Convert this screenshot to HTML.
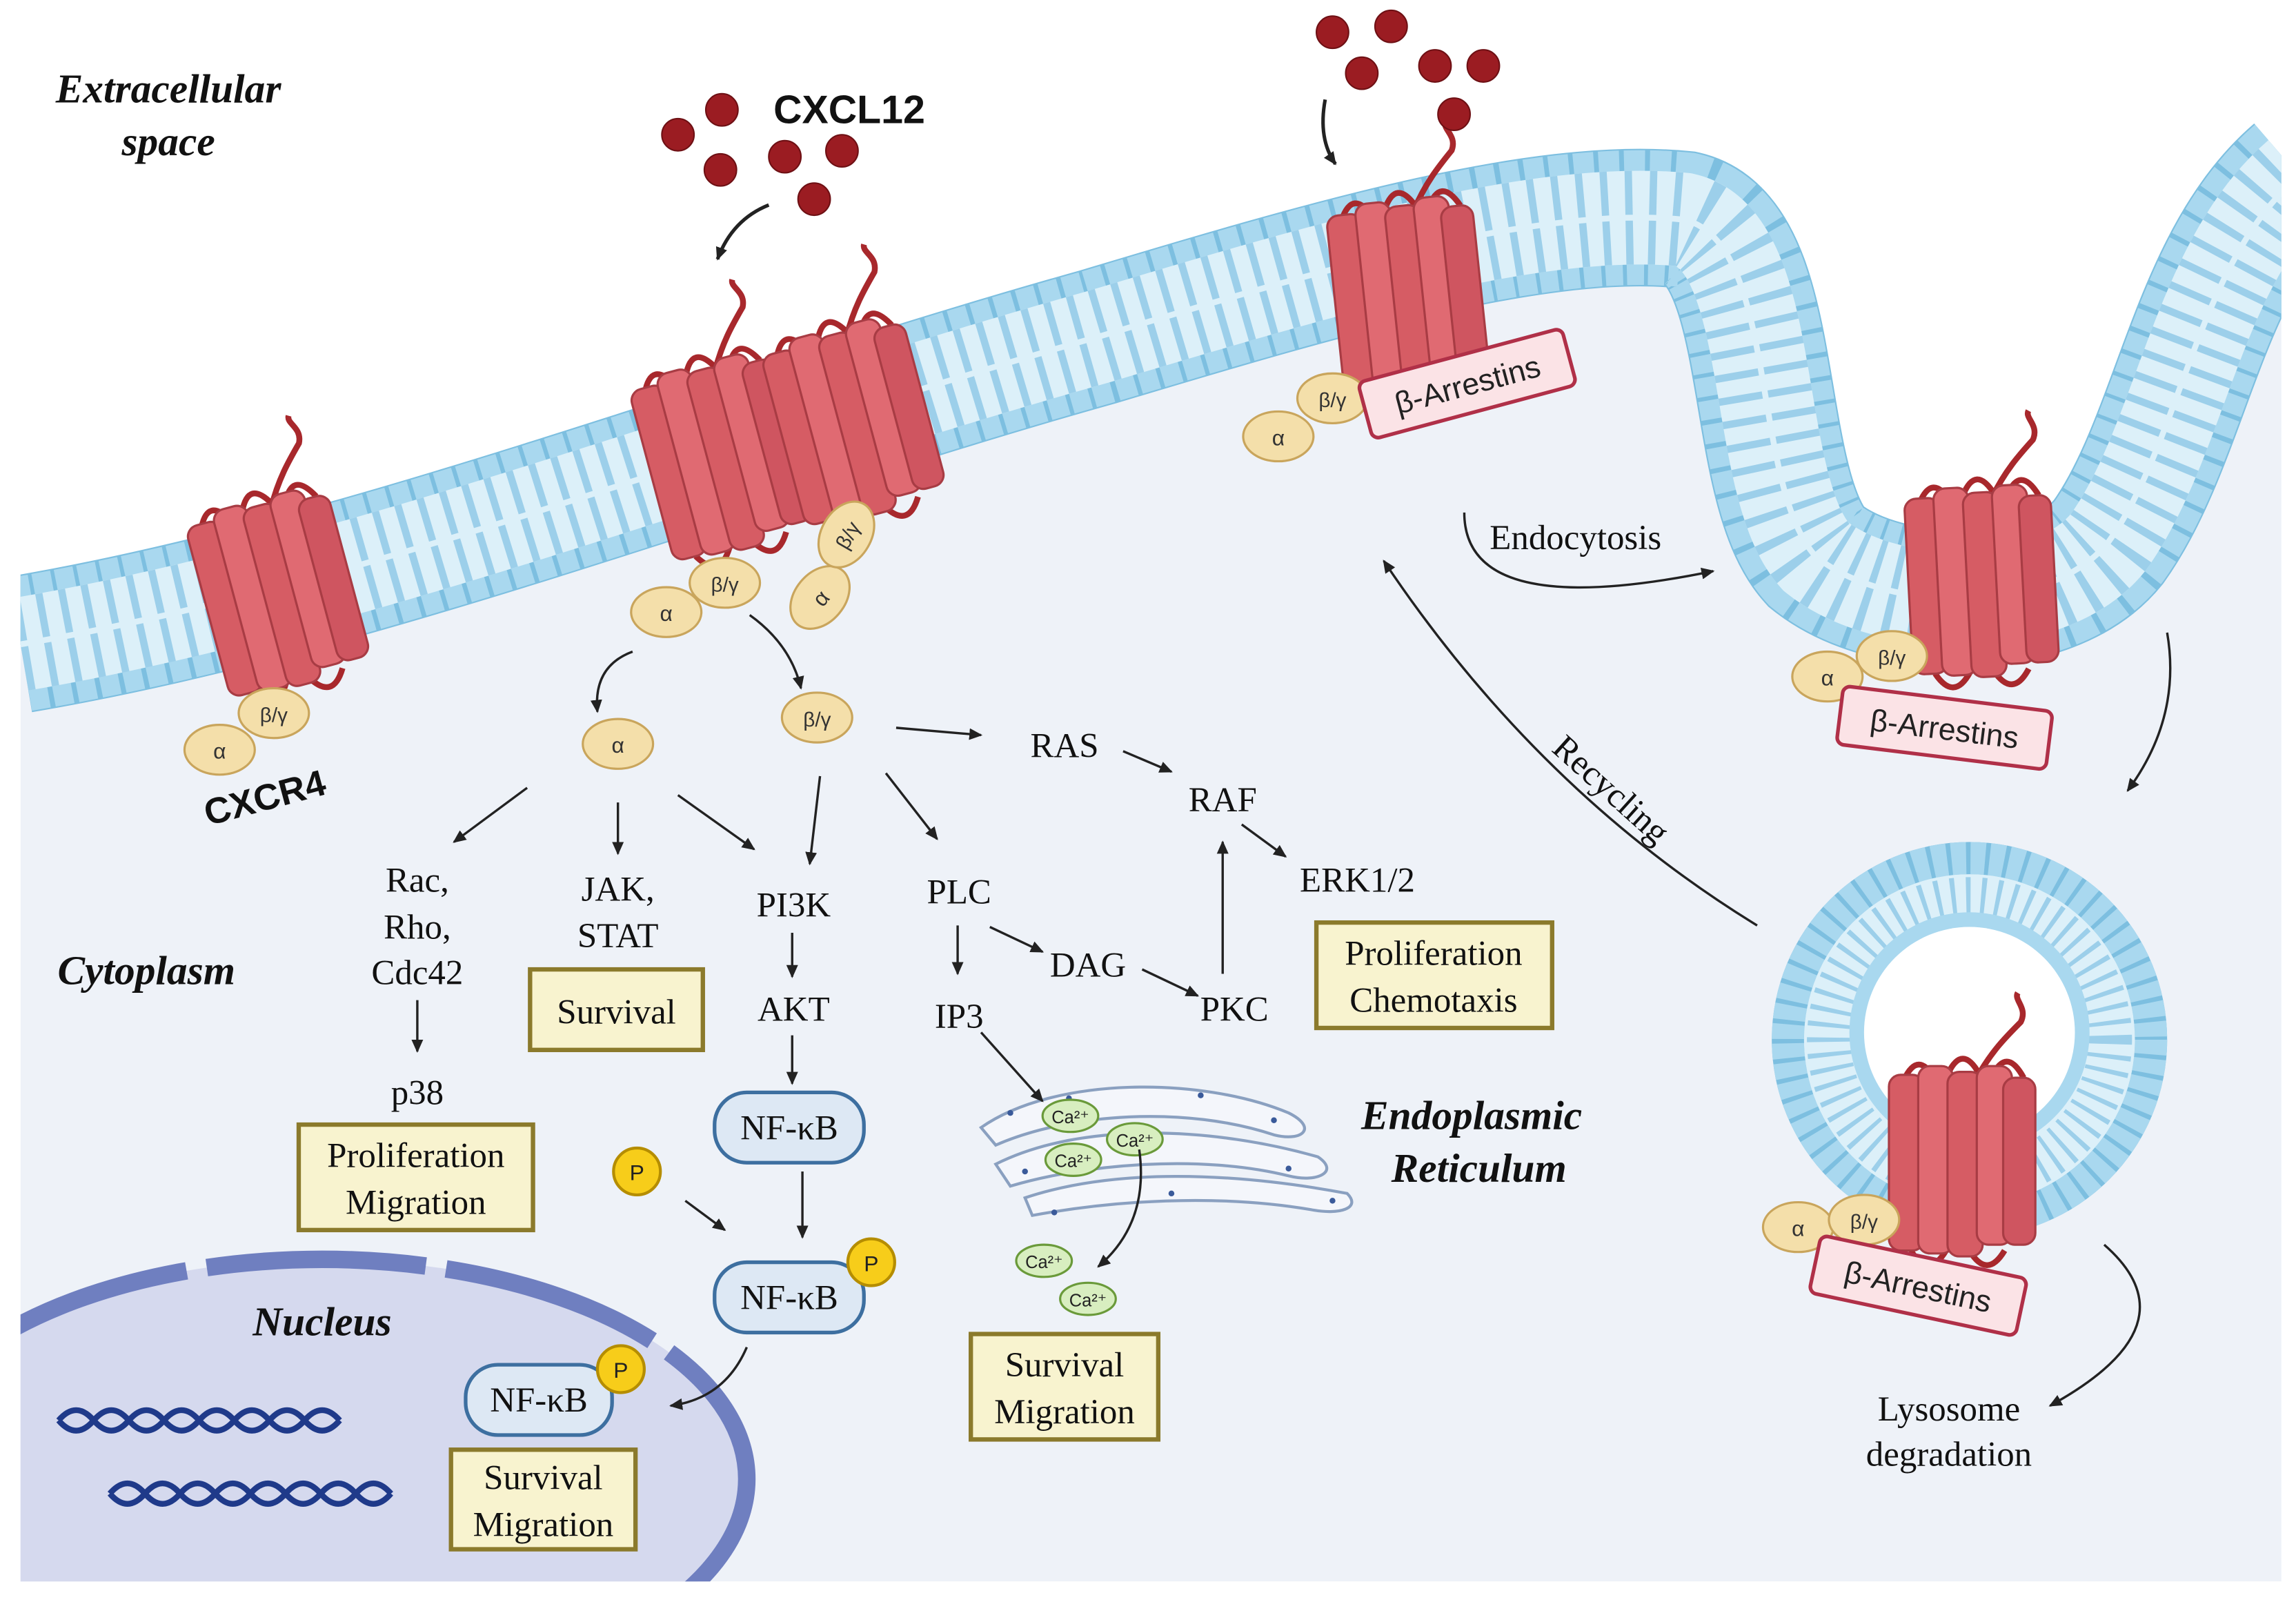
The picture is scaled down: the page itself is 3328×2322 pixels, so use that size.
<!DOCTYPE html>
<html><head><meta charset="utf-8">
<style>
html,body{margin:0;padding:0;background:#fff;overflow:hidden;width:3328px;height:2322px;}
svg{display:block;}
.t{font-family:"Liberation Serif",serif;font-size:24px;fill:#111;text-anchor:middle;}
.bi{font-family:"Liberation Serif",serif;font-weight:bold;font-style:italic;font-size:28px;fill:#111;text-anchor:middle;}
.s{font-family:"Liberation Sans",sans-serif;text-anchor:middle;}
</style></head><body>
<svg width="3328" height="2322" viewBox="0 0 1568 1094" xmlns="http://www.w3.org/2000/svg">
<defs>
<marker id="ah" markerWidth="10" markerHeight="10" refX="8" refY="5" orient="auto" markerUnits="userSpaceOnUse">
<path d="M0,1 L9,5 L0,9 Z" fill="#222"/></marker>
<clipPath id="frame"><rect x="14" y="0" width="1544" height="1080"/></clipPath>
<g id="rec">
<path d="M60,8 C70,-10 80,-20 90,-30 C95,-40 85,-45 88,-50" fill="none" stroke="#a8282c" stroke-width="4"/>
<path d="M10,10 q10,-22 22,0 M40,6 q10,-22 22,0 M70,8 q10,-22 22,0 M15,126 q12,20 24,0 M55,126 q12,20 24,0" fill="none" stroke="#a8282c" stroke-width="4"/>
<rect x="0" y="6" width="24" height="120" rx="8" fill="#d65c64" stroke="#a83c44" stroke-width="1.5"/>
<rect x="20" y="0" width="24" height="128" rx="8" fill="#e06a72" stroke="#a83c44" stroke-width="1.5"/>
<rect x="40" y="4" width="24" height="126" rx="8" fill="#d65c64" stroke="#a83c44" stroke-width="1.5"/>
<rect x="60" y="0" width="24" height="122" rx="8" fill="#e06a72" stroke="#a83c44" stroke-width="1.5"/>
<rect x="78" y="8" width="22" height="114" rx="8" fill="#cf5560" stroke="#a83c44" stroke-width="1.5"/>
</g>
<g id="al"><ellipse cx="0" cy="0" rx="24" ry="17" fill="#f4dfaa" stroke="#c9a55c" stroke-width="1.5"/><text x="0" y="6" class="s" font-size="15" fill="#333">α</text></g>
<g id="bg"><ellipse cx="0" cy="0" rx="24" ry="17" fill="#f4dfaa" stroke="#c9a55c" stroke-width="1.5"/><text x="0" y="6" class="s" font-size="14" fill="#333">β/γ</text></g>
<g id="ca"><ellipse cx="0" cy="0" rx="19" ry="11" fill="#d8eec0" stroke="#6a9a3a" stroke-width="1.5"/><text x="0" y="5" class="s" font-size="12" fill="#222">Ca²⁺</text></g>
</defs>

<g clip-path="url(#frame)">
<path d="M14,440 C250,400 500,300 750,230 C900,185 1050,140 1150,150 C1215,165 1195,330 1240,380 C1290,420 1400,420 1440,370 C1490,300 1500,180 1570,120 L1570,1080 L14,1080 Z" fill="#eef2f8"/>
<ellipse cx="220" cy="1010" rx="290" ry="150" fill="#d5d9ee"/>
<ellipse cx="220" cy="1010" rx="290" ry="150" fill="none" stroke="#6f7fc0" stroke-width="12" stroke-dasharray="150 14"/>
<g fill="none">
<path d="M14,440 C250,400 500,300 750,230 C900,185 1050,140 1150,150 C1215,165 1195,330 1240,380 C1290,420 1400,420 1440,370 C1490,300 1500,180 1570,120" stroke="#7dbfe0" stroke-width="94"/>
<path d="M14,440 C250,400 500,300 750,230 C900,185 1050,140 1150,150 C1215,165 1195,330 1240,380 C1290,420 1400,420 1440,370 C1490,300 1500,180 1570,120" stroke="#a9d8ef" stroke-width="92" stroke-dasharray="13 3"/>
<path d="M14,440 C250,400 500,300 750,230 C900,185 1050,140 1150,150 C1215,165 1195,330 1240,380 C1290,420 1400,420 1440,370 C1490,300 1500,180 1570,120" stroke="#dcf0f9" stroke-width="64"/>
<path d="M14,440 C250,400 500,300 750,230 C900,185 1050,140 1150,150 C1215,165 1195,330 1240,380 C1290,420 1400,420 1440,370 C1490,300 1500,180 1570,120" stroke="#9ccfea" stroke-width="64" stroke-dasharray="5 11"/>
<path d="M14,440 C250,400 500,300 750,230 C900,185 1050,140 1150,150 C1215,165 1195,330 1240,380 C1290,420 1400,420 1440,370 C1490,300 1500,180 1570,120" stroke="#dcf0f9" stroke-width="4"/>
</g>
<circle cx="1345" cy="710" r="135" fill="#7dbfe0"/>
<circle cx="1345" cy="710" r="124" fill="none" stroke="#a9d8ef" stroke-width="22" stroke-dasharray="10 3"/>
<circle cx="1345" cy="710" r="113" fill="#dcf0f9"/>
<circle cx="1345" cy="710" r="96" fill="none" stroke="#9ccfea" stroke-width="30" stroke-dasharray="3 7"/>
<circle cx="1345" cy="705" r="82" fill="#a9d8ef"/>
<circle cx="1345" cy="705" r="72" fill="#ffffff"/>
<g fill="none" stroke="#1f3a8a" stroke-width="4">
<path d="M40,970 q12,-14 24,0 t24,0 t24,0 t24,0 t24,0 t24,0 t24,0 t24,0"/>
<path d="M40,970 q12,14 24,0 t24,0 t24,0 t24,0 t24,0 t24,0 t24,0 t24,0"/>
<path d="M75,1020 q12,-14 24,0 t24,0 t24,0 t24,0 t24,0 t24,0 t24,0 t24,0"/>
<path d="M75,1020 q12,14 24,0 t24,0 t24,0 t24,0 t24,0 t24,0 t24,0 t24,0"/>
</g>
</g>

<use href="#rec" transform="translate(125,355) rotate(-15)"/>
<use href="#rec" transform="translate(428,262) rotate(-15)"/>
<use href="#rec" transform="translate(518,238) rotate(-15)"/>
<use href="#rec" transform="translate(905,142) rotate(-6)"/>
<use href="#rec" transform="translate(1300,335) rotate(-3)"/>
<use href="#rec" transform="translate(1290,728)"/>

<use href="#al" x="150" y="512"/><use href="#bg" x="187" y="487"/>
<use href="#al" x="455" y="418"/><use href="#bg" x="495" y="398"/>
<use href="#al" transform="translate(560,408) rotate(-50)"/><use href="#bg" transform="translate(578,365) rotate(-60)"/>
<use href="#al" x="873" y="298"/><use href="#bg" x="910" y="272"/>
<use href="#al" x="1248" y="462"/><use href="#bg" x="1292" y="448"/>
<use href="#al" x="1228" y="838"/><use href="#bg" x="1273" y="833"/>
<use href="#al" x="422" y="508"/><use href="#bg" x="558" y="490"/>

<g transform="translate(1002,262) rotate(-15)"><rect x="-72" y="-20" width="144" height="40" rx="5" fill="#fbe3e6" stroke="#b03048" stroke-width="2.5"/><text x="0" y="8" class="s" font-size="21" fill="#222">β-Arrestins</text></g>
<g transform="translate(1328,497) rotate(7)"><rect x="-72" y="-20" width="144" height="40" rx="5" fill="#fbe3e6" stroke="#b03048" stroke-width="2.5"/><text x="0" y="8" class="s" font-size="21" fill="#222">β-Arrestins</text></g>
<g transform="translate(1310,878) rotate(12)"><rect x="-72" y="-20" width="144" height="40" rx="5" fill="#fbe3e6" stroke="#b03048" stroke-width="2.5"/><text x="0" y="8" class="s" font-size="21" fill="#222">β-Arrestins</text></g>

<g fill="#9b1c22" stroke="#6e1014" stroke-width="1">
<circle cx="463" cy="92" r="11"/><circle cx="493" cy="75" r="11"/><circle cx="536" cy="107" r="11"/><circle cx="575" cy="103" r="11"/><circle cx="492" cy="116" r="11"/><circle cx="556" cy="136" r="11"/>
<circle cx="910" cy="22" r="11"/><circle cx="950" cy="18" r="11"/><circle cx="930" cy="50" r="11"/><circle cx="980" cy="45" r="11"/><circle cx="1013" cy="45" r="11"/><circle cx="993" cy="78" r="11"/>
</g>

<g fill="none" stroke="#8aa0c0" stroke-width="2">
<path d="M670,770 C720,735 820,735 880,760 C900,770 890,780 870,775 C810,755 730,760 680,782 Z" fill="#f4f6fb"/>
<path d="M680,795 C740,765 830,770 900,790 C915,800 900,808 880,803 C820,788 740,795 690,810 Z" fill="#f4f6fb"/>
<path d="M700,818 C760,798 840,800 920,815 C930,825 915,830 895,826 C830,815 760,820 705,830 Z" fill="#f4f6fb"/>
</g>
<g fill="#3a5a9a"><circle cx="690" cy="760" r="2"/><circle cx="730" cy="750" r="2"/><circle cx="820" cy="748" r="2"/><circle cx="870" cy="765" r="2"/><circle cx="700" cy="800" r="2"/><circle cx="880" cy="798" r="2"/><circle cx="910" cy="820" r="2"/><circle cx="720" cy="828" r="2"/><circle cx="800" cy="815" r="2"/></g>
<use href="#ca" x="731" y="762"/><use href="#ca" x="775" y="778"/><use href="#ca" x="733" y="792"/>
<use href="#ca" x="713" y="861"/><use href="#ca" x="743" y="887"/>

<g fill="#f8f3cf" stroke="#8b7a2c" stroke-width="3">
<rect x="362" y="662" width="118" height="55"/>
<rect x="204" y="768" width="160" height="72"/>
<rect x="899" y="630" width="161" height="72"/>
<rect x="663" y="911" width="128" height="72"/>
<rect x="308" y="990" width="126" height="68"/>
</g>
<g fill="#dde8f4" stroke="#3d6fa0" stroke-width="2.5">
<rect x="488" y="746" width="102" height="48" rx="22"/>
<rect x="488" y="862" width="102" height="48" rx="22"/>
<rect x="318" y="932" width="100" height="48" rx="22"/>
</g>
<g fill="#f7cd1a" stroke="#b58d00" stroke-width="2">
<circle cx="435" cy="800" r="16"/><circle cx="595" cy="862" r="16"/><circle cx="424" cy="935" r="16"/>
</g>
<g class="s" font-size="15" fill="#222"><text x="435" y="806">P</text><text x="595" y="868">P</text><text x="424" y="941">P</text></g>

<text x="115" y="70" class="bi">Extracellular</text>
<text x="115" y="106" class="bi">space</text>
<text x="580" y="84" font-family="Liberation Sans,sans-serif" font-weight="bold" font-size="27" text-anchor="middle" fill="#111">CXCL12</text>
<text transform="translate(183,553) rotate(-15)" font-family="Liberation Sans,sans-serif" font-weight="bold" font-size="25" text-anchor="middle" fill="#111">CXCR4</text>
<text x="100" y="672" class="bi">Cytoplasm</text>
<text x="1005" y="771" class="bi">Endoplasmic</text>
<text x="1010" y="807" class="bi">Reticulum</text>
<text x="220" y="912" class="bi">Nucleus</text>
<g class="t">
<text x="285" y="609">Rac,</text><text x="285" y="641">Rho,</text><text x="285" y="672">Cdc42</text>
<text x="285" y="754">p38</text>
<text x="422" y="615">JAK,</text><text x="422" y="647">STAT</text>
<text x="542" y="626">PI3K</text><text x="542" y="697">AKT</text>
<text x="655" y="617">PLC</text><text x="655" y="702">IP3</text>
<text x="743" y="667">DAG</text><text x="843" y="697">PKC</text>
<text x="727" y="517">RAS</text><text x="835" y="554">RAF</text><text x="927" y="609">ERK1/2</text>
<text x="421" y="699">Survival</text>
<text x="284" y="797">Proliferation</text><text x="284" y="829">Migration</text>
<text x="979" y="659">Proliferation</text><text x="979" y="691">Chemotaxis</text>
<text x="727" y="940">Survival</text><text x="727" y="972">Migration</text>
<text x="371" y="1017">Survival</text><text x="371" y="1049">Migration</text>
<text x="539" y="778">NF-κB</text><text x="539" y="894">NF-κB</text><text x="368" y="964">NF-κB</text>
<text x="1076" y="375">Endocytosis</text>
<text transform="translate(1095,545) rotate(42)">Recycling</text>
<text x="1331" y="970">Lysosome</text><text x="1331" y="1001">degradation</text>
</g>

<g fill="none" stroke="#222" stroke-width="1.6" marker-end="url(#ah)">
<path d="M360,538 L310,575"/><path d="M422,548 L422,583"/><path d="M463,543 L515,580"/>
<path d="M560,530 L553,590"/><path d="M605,528 L640,573"/><path d="M612,497 L670,502"/>
<path d="M767,513 L800,527"/><path d="M848,563 L878,585"/><path d="M285,683 L285,718"/>
<path d="M541,637 L541,667"/><path d="M541,707 L541,740"/><path d="M548,800 L548,845"/>
<path d="M468,820 L495,840"/><path d="M654,632 L654,665"/><path d="M676,633 L712,650"/>
<path d="M780,662 L818,680"/><path d="M835,665 L835,575"/><path d="M670,705 L712,752"/>
<path d="M778,785 Q785,835 750,865"/>
<path d="M510,920 Q495,955 458,960"/>
<path d="M432,445 Q405,455 408,486"/>
<path d="M512,420 Q540,440 547,470"/>
<path d="M1000,350 Q1000,425 1170,390"/>
<path d="M1200,632 Q1050,540 945,383"/>
<path d="M1480,432 Q1490,490 1453,540"/>
<path d="M1437,850 Q1500,905 1400,960"/>
<path d="M525,140 Q500,150 490,177" stroke-width="2.4"/>
<path d="M905,68 Q900,95 912,112" stroke-width="2.4"/>
</g>
</svg>
</body></html>
